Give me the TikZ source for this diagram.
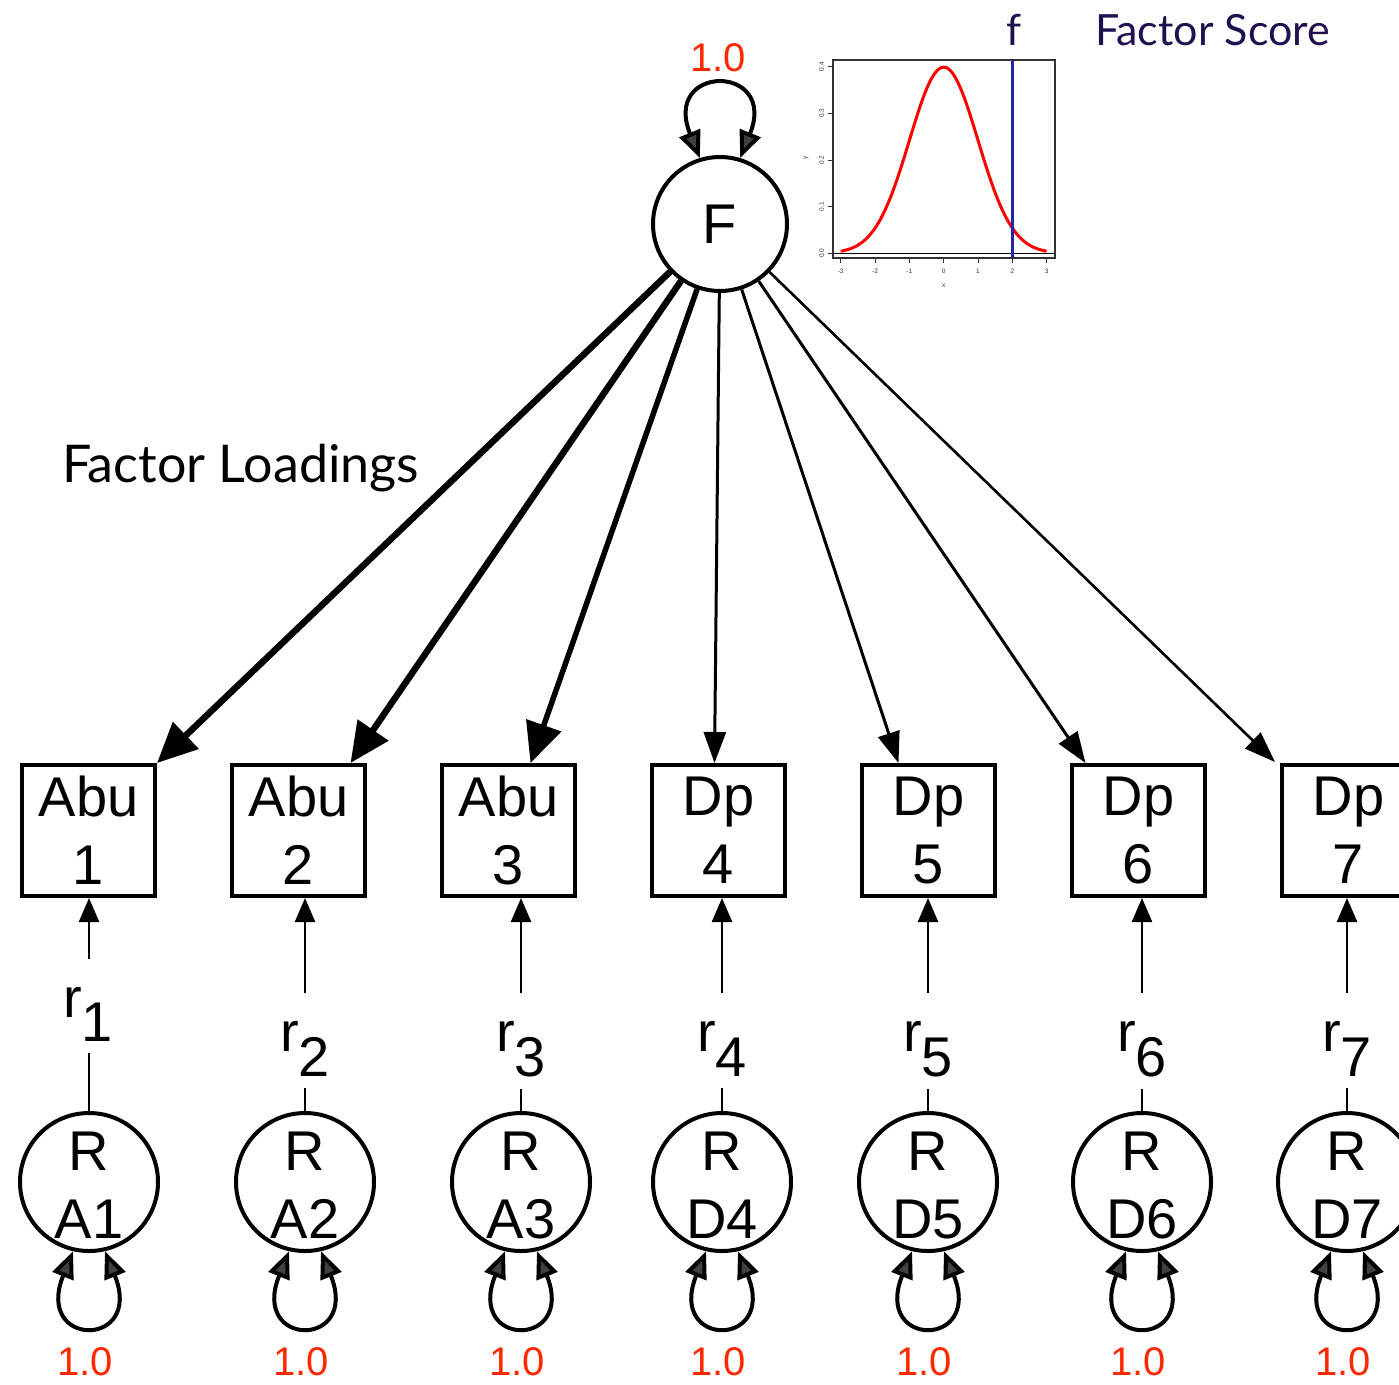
\documentclass[tikz,border=0pt]{standalone}
\usepackage{fontspec}
\setmainfont{Liberation Sans}
\newfontfamily\titlefont{Lato}
\usetikzlibrary{arrows.meta,calc}
\definecolor{valred}{RGB}{255,40,0}
\definecolor{scorenavy}{RGB}{32,16,80}
\definecolor{curvered}{RGB}{255,0,0}
\definecolor{markblue}{RGB}{36,36,170}
\definecolor{headgray}{RGB}{64,64,64}

\begin{document}
\begin{tikzpicture}[x=1pt,y=1pt,
  txt/.style={font=\fontsize{56}{68}\selectfont, inner sep=0pt},
  obs/.style={draw, line width=4pt, minimum width=133pt, minimum height=131pt,
    inner sep=0pt, align=center, font=\fontsize{56}{68}\selectfont},
  latent/.style={draw, circle, line width=4pt, minimum size=138pt, inner sep=0pt},
  heavy/.style={line width=6.5pt, -{Triangle[length=40pt,width=36pt]}},
  light/.style={line width=3pt, -{Triangle[length=31pt,width=22pt]}},
  resid/.style={line width=2.5pt, -{Triangle[length=24pt,width=20pt]}},
  varloop/.style={line width=4pt,
    {Triangle[length=27pt,width=22pt,fill=headgray]}-{Triangle[length=27pt,width=22pt,fill=headgray]}},
  one/.style={text=valred, font=\fontsize{40}{40}\selectfont, inner sep=0pt},
  ticklbl/.style={font=\fontsize{6.5}{6.5}\selectfont, text=black!80, inner sep=0pt},
  plotframe/.style={line width=1.4pt, draw=black!80}
]
\useasboundingbox (0,0) rectangle (1399,-1384);

% ---------- common factor with its variance loop ----------
\node[latent, minimum size=134pt, font=\fontsize{56}{68}\selectfont] (F) at (720,-224) {F};
\draw[varloop] (F.107) .. controls +(112:102) and +(68:102) .. (F.73);
\node[one] (vF) at (718,-57.5) {1.0};

% ---------- indicators ----------
\foreach \lab [count=\i] in {Abu\\1,Abu\\2,Abu\\3,Dp\\4,Dp\\5,Dp\\6,Dp\\7}
  \node[obs] (b\i) at ({88.5+210*(\i-1)},-830.5) {\lab};

% ---------- residual factors ----------
\foreach \cx/\lab [count=\i] in {89/A1,305/A2,521/A3,722/D4,928/D5,1142/D6,1347/D7}{
  \node[latent] (e\i) at (\cx,-1182) {};
  \node[txt, align=center] (et\i) at ([yshift=-3pt]e\i.center) {R\\\lab};
  \draw[varloop] (e\i.257) .. controls +(248:105) and +(292:105) .. (e\i.283);
  \node[one] (ve\i) at ({\cx-4},-1362) {1.0};
}

% ---------- residual labels and paths ----------
\node[txt, anchor=base west] (r1) at (63,-1017) {r\raisebox{-24pt}{1}};
\foreach \cx [count=\j from 2] in {305,521,722,928,1142,1347}
  \node[txt, anchor=base west] (r\j) at ({\cx-25},-1051) {r\raisebox{-25pt}{\j}};
\foreach \i in {1,...,7}{
  \draw[resid, shorten <=28pt] (e\i.north |- r\i.north) -- (e\i.north |- b\i.south);
  \draw[line width=2.5pt, shorten >=12pt] (e\i.north) -- (e\i.north |- r\i.south);
}

% ---------- factor loadings ----------
\draw[heavy] (F) -- (b1.north east);
\draw[heavy] (F) -- ([xshift=52pt]b2.north);
\draw[heavy, line width=5.5pt] (F) -- ([xshift=22pt]b3.north);
\draw[light] (F) -- ([xshift=-4pt]b4.north);
\draw[light] (F) -- ([xshift=-30pt]b5.north);
\draw[light] (F) -- ([xshift=-53pt]b6.north);
\draw[light, line width=2.6pt] (F) -- ([xshift=-5pt,yshift=1pt]b7.north west);

\node[font=\titlefont\fontsize{52}{52}\selectfont, anchor=base west, inner sep=0pt]
  (loadings) at (62,-482) {Factor Loadings};

% ---------- standard normal density with the score marked ----------
\draw[plotframe] (833,-60) rectangle (1055,-258);
\foreach \t [count=\i] in {-3,...,3}{
  \draw[line width=1pt, black!80] ({943.7+34.33*(\t)},-258) -- ++(0,-5);
  \node[ticklbl] (xt\i) at ({943.7+34.33*(\t)},-271) {\t};
}
\foreach \v [count=\i] in {0.0,0.1,0.2,0.3,0.4}{
  \draw[line width=1pt, black!80] (833,{-253.3+466.5*\v}) -- ++(-5,0);
  \node[ticklbl, rotate=90] (yt\i) at (821.5,{-253.3+466.5*\v}) {\v};
}
\node[ticklbl] (xlab) at (943.7,-286) {x};
\node[ticklbl, rotate=90] (ylab) at (806,-158) {y};
\draw[line width=1.5pt, black] (833,-253.3) -- (1055,-253.3);
\draw[line width=3pt, curvered, line join=round]
  plot[domain=-3:3, samples=121, smooth] ({943.7+34.33*\x}, {-253.3+186.1*exp(-0.5*(\x)^2)});
\draw[line width=2.5pt, markblue] (1012.4,-60) -- (1012.4,-258);

\node[font=\titlefont\fontsize{43}{43}\selectfont, text=scorenavy, anchor=base, inner sep=0pt]
  (fscore) at (1014,-45) {f};
\node[font=\titlefont\fontsize{43}{43}\selectfont, text=scorenavy, anchor=base west, inner sep=0pt]
  (scoretitle) at (1095,-45) {Factor Score};
\end{tikzpicture}
\end{document}
